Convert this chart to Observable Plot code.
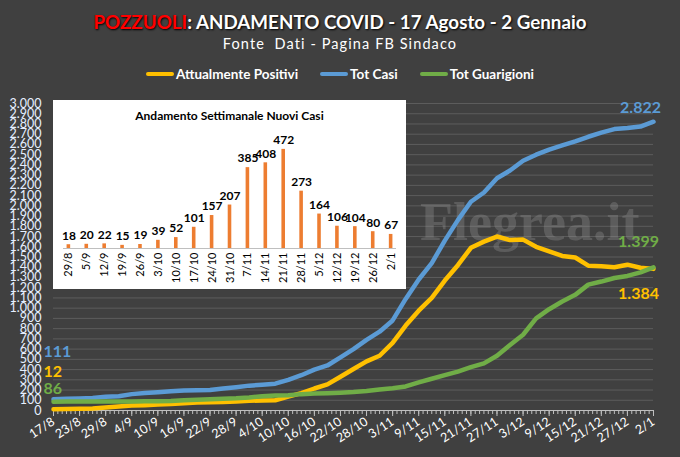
<!DOCTYPE html>
<html><head><meta charset="utf-8">
<script src="https://cdn.jsdelivr.net/npm/d3@7"></script>
<script src="https://cdn.jsdelivr.net/npm/@observablehq/plot@0.6"></script>
<style>
body{margin:0;background:#404040;}
#wrap{position:relative;width:680px;height:457px;background:#404040;overflow:hidden;font-family:Lato,"Open Sans",sans-serif;}
#title{position:absolute;top:10px;left:0;width:680px;text-align:center;font-weight:bold;font-size:18.8px;color:#fff;text-shadow:1px 1px 2px #000;white-space:nowrap;}
#title .red{color:#ff0000;}
#sub{position:absolute;top:35px;left:0;width:680px;text-align:center;font-size:14.5px;color:#fff;letter-spacing:1.1px;white-space:nowrap;}
#legend{position:absolute;top:66px;left:0;width:680px;display:flex;justify-content:center;gap:22px;font-weight:bold;font-size:13.5px;color:#fff;white-space:nowrap;}
#legend .it{display:flex;align-items:center;}
#legend .sw{display:inline-block;width:28px;height:4px;border-radius:2px;margin-right:2px;}
#main{position:absolute;left:0;top:90px;}
#inset{position:absolute;left:53px;top:100px;width:353px;height:189px;background:#fff;}
#inset .t{position:absolute;top:8px;left:0;width:353px;text-align:center;font-weight:bold;font-size:12px;color:#000;}
#inset svg{position:absolute;left:0;top:26px;}
</style></head>
<body><div id="wrap">
<div id="title"><span class="red">POZZUOLI</span>: ANDAMENTO COVID - 17 Agosto - 2 Gennaio</div>
<div id="sub">Fonte&nbsp; Dati - Pagina FB Sindaco</div>
<div id="legend"></div>
<div id="main"></div>
<div id="inset"><div class="t">Andamento Settimanale Nuovi Casi</div></div>
</div>
<script>
// ---- main series (read every 3 days) ----
const dates = ["17/8","20/8","23/8","26/8","29/8","1/9","4/9","7/9","10/9","13/9","16/9","19/9","22/9","25/9","28/9","1/10","4/10","7/10","10/10","13/10","16/10","19/10","22/10","25/10","28/10","31/10","3/11","6/11","9/11","12/11","15/11","18/11","21/11","24/11","27/11","30/11","3/12","6/12","9/12","12/12","15/12","18/12","21/12","24/12","27/12","30/12","2/1"];
const attualmentePositivi = [12,14,16,20,30,40,48,52,58,64,70,78,80,84,88,95,98,100,135,170,215,255,330,405,480,535,660,830,975,1100,1270,1420,1590,1650,1700,1665,1670,1600,1555,1510,1495,1415,1410,1400,1425,1395,1384];
const totCasi = [111,115,118,122,135,140,160,170,178,188,196,198,200,215,228,243,252,262,300,345,400,440,520,600,690,770,880,1090,1280,1440,1660,1860,2040,2130,2270,2345,2440,2500,2550,2590,2630,2675,2715,2750,2760,2775,2822];
const totGuarigioni = [86,88,88,88,88,88,88,90,90,92,100,105,110,115,120,128,140,147,150,160,165,168,173,180,190,205,218,235,275,310,345,380,424,460,535,640,740,900,990,1065,1130,1230,1260,1295,1315,1350,1399];
const seriesNames = ["Attualmente Positivi","Tot Casi","Tot Guarigioni"];
const seriesColors = ["#FFC000","#5B9BD5","#70AD47"];
const xTickLabels = ["17/8","23/8","29/8","4/9","10/9","16/9","22/9","28/9","4/10","10/10","16/10","22/10","28/10","3/11","9/11","15/11","21/11","27/11","3/12","9/12","15/12","21/12","27/12","2/1"];
const yTicks = [0,100,200,300,400,500,600,700,800,900,1000,1100,1200,1300,1400,1500,1600,1700,1800,1900,2000,2100,2200,2300,2400,2500,2600,2700,2800,2900,3000];

// ---- inset weekly new cases ----
const weeks = ["29/8","5/9","12/9","19/9","26/9","3/10","10/10","17/10","24/10","31/10","7/11","14/11","21/11","28/11","5/12","12/12","19/12","26/12","2/1"];
const weeklyNew = [18,20,22,15,19,39,52,101,157,207,385,408,472,273,164,106,104,80,67];

const parse = s => { const [d,m] = s.split("/").map(Number); return new Date(Date.UTC(m >= 8 ? 2020 : 2021, m-1, d)); };
const seriesVals = [attualmentePositivi, totCasi, totGuarigioni];
const rows = [];
seriesNames.forEach((name, k) => dates.forEach((d, i) => rows.push({series: name, date: parse(d), value: seriesVals[k][i]})));
const fmt = v => d3.format(",")(v).replace(/,/g, ".");

// legend
const leg = document.getElementById("legend");
seriesNames.forEach((n,i)=>{const it=document.createElement("div");it.className="it";it.innerHTML=`<span class="sw" style="background:${seriesColors[i]}"></span>${n}`;leg.appendChild(it);});

const first = k => rows.filter(r => r.series === seriesNames[k])[0];
const last = k => { const a = rows.filter(r => r.series === seriesNames[k]); return a[a.length-1]; };
const labelFont = {fontSize: 16, fontWeight: "bold"};

const main = Plot.plot({
  width: 680, height: 367,
  marginTop: 13, marginBottom: 47, marginLeft: 53, marginRight: 27,
  style: {background: "transparent", fontFamily: "Lato, 'Open Sans', sans-serif"},
  x: {type: "utc", domain: [parse("17/8"), parse("2/1")], label: null},
  y: {domain: [0, 3000], label: null},
  color: {domain: seriesNames, range: seriesColors},
  marks: [
    Plot.gridY(yTicks, {stroke: "#5c5c5c", strokeOpacity: 1}),
    Plot.text(["Flegrea.it"], {frameAnchor: "top-right", dx: -14, dy: 98, fontSize: 54, fontWeight: "bold", fontFamily: "'Liberation Serif', serif", fill: "#a0a0a0", fillOpacity: 0.3, textAnchor: "end"}),
    Plot.axisY(yTicks, {tickSize: 0, tickPadding: 12, tickFormat: fmt, fill: "#e6efff", fontSize: 12.5, label: null}),
    Plot.axisX({ticks: "day", tickSize: 4, tickFormat: () => "", stroke: "#bfbfbf", label: null}),
    Plot.axisX(xTickLabels.map(parse), {tickSize: 6, stroke: "#bfbfbf", tickFormat: d => `${d.getUTCDate()}/${d.getUTCMonth()+1}`, tickRotate: -33, fill: "#ffffff", fontSize: 12.5, tickPadding: 4, label: null}),
    Plot.ruleY([0], {stroke: "#bfbfbf"}),
    Plot.lineY(rows, {x: "date", y: "value", stroke: "series", strokeWidth: 4.5, strokeLinejoin: "round"}),
    Plot.text([first(1)], {x: "date", y: "value", text: d => fmt(d.value), fill: seriesColors[1], textAnchor: "start", dx: -10, dy: -47, ...labelFont}),
    Plot.text([first(0)], {x: "date", y: "value", text: d => fmt(d.value), fill: seriesColors[0], textAnchor: "start", dx: -10, dy: -37, ...labelFont}),
    Plot.text([first(2)], {x: "date", y: "value", text: d => fmt(d.value), fill: seriesColors[2], textAnchor: "start", dx: -10, dy: -13, ...labelFont}),
    Plot.text([last(1)], {x: "date", y: "value", text: d => fmt(d.value), fill: seriesColors[1], dx: -13, dy: -14, ...labelFont}),
    Plot.text([last(2)], {x: "date", y: "value", text: d => fmt(d.value), fill: seriesColors[2], dx: -15, dy: -25, ...labelFont}),
    Plot.text([last(0)], {x: "date", y: "value", text: d => fmt(d.value), fill: seriesColors[0], dx: -15, dy: 25, ...labelFont})
  ]
});
document.getElementById("main").appendChild(main);

const wk = weeks.map((w,i)=>({week: w, n: weeklyNew[i]}));
const inset = Plot.plot({
  width: 353, height: 163,
  marginTop: 17, marginBottom: 41, marginLeft: 10, marginRight: 10,
  style: {background: "transparent", fontFamily: "Lato, 'Open Sans', sans-serif", color: "#000"},
  x: {domain: weeks, paddingInner: 0.8, paddingOuter: 0.2, round: false, label: null},
  y: {domain: [0, 500], axis: null},
  marks: [
    Plot.barY(wk, {x: "week", y: "n", fill: "#ED7D31"}),
    Plot.ruleY([0], {stroke: "#bfbfbf"}),
    Plot.text(wk, {x: "week", y: "n", text: d => String(d.n), dy: -9, fontSize: 12, fontWeight: "bold", fill: "#000"}),
    Plot.axisX({tickSize: 0, tickRotate: -90, tickPadding: 4, fontSize: 11, fill: "#000", label: null})
  ]
});
document.getElementById("inset").appendChild(inset);
</script>
</body></html>
